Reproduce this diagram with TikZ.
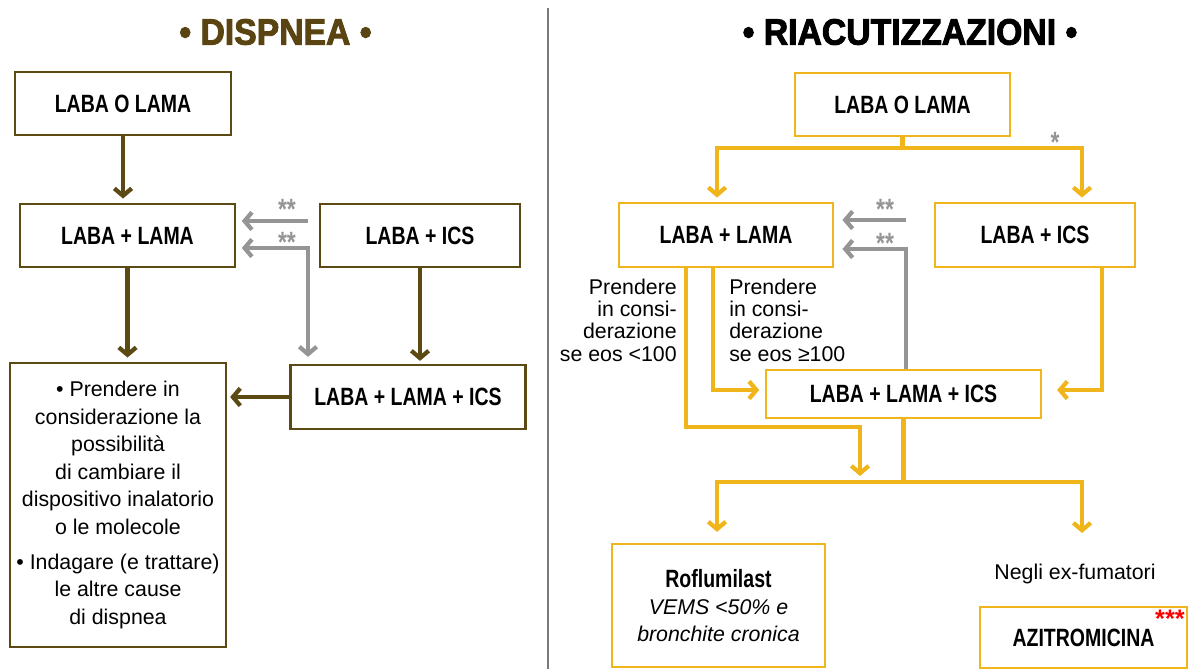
\documentclass[tikz,border=0pt]{standalone}
\usepackage{fontspec}
\setmainfont{Liberation Sans}
\newfontfamily\condfont{Liberation Sans}[FakeStretch=0.78]
\newfontfamily\titlefont{Liberation Sans}[FakeStretch=0.92,FakeBold=2.5]
\usetikzlibrary{arrows.meta,calc}
\definecolor{brownc}{HTML}{5C4A14}
\definecolor{goldc}{HTML}{F1B51C}
\definecolor{grayc}{HTML}{959595}
\definecolor{divc}{HTML}{7A7A7A}
\definecolor{titlebrown}{HTML}{5A4512}
\begin{document}
\begin{tikzpicture}[x=0.75pt,y=-0.75pt,
  sz/.style 2 args={minimum width=#1*0.75pt, minimum height=#2*0.75pt},
  bx/.style={draw, line width=2.2pt, inner sep=0pt, font=\condfont\bfseries\fontsize{18.75}{22}\selectfont, text=black},
  lbox/.style={bx, draw=brownc},
  rbox/.style={bx, draw=goldc},
  tipend/.style={-{Straight Barb[length=5.5pt,width=13pt]}},
  tipboth/.style={{Straight Barb[length=5.5pt,width=13pt]}-{Straight Barb[length=5.5pt,width=13pt]}},
  larr/.style={tipend, draw=brownc, line width=3.2pt},
  rarr/.style={tipend, draw=goldc, line width=3.2pt},
  rline/.style={draw=goldc, line width=3.2pt},
  garr/.style={tipend, draw=grayc, line width=3.2pt},
  ast/.style={text=grayc, inner sep=0pt, font=\condfont\bfseries\fontsize{22}{22}\selectfont},
  lbl/.style={inner sep=0pt, font=\fontsize{16}{16.7}\selectfont},
  ttl/.style={inner sep=0pt, font=\titlefont\bfseries\fontsize{27.5}{30}\selectfont}
]
\useasboundingbox (0,0) rectangle (1189,669);

% titles and divider
\node[ttl, text=titlebrown] (t1) at (275.5,32) {• DISPNEA •};
\node[ttl, text=black] (t2) at (910,32) {• RIACUTIZZAZIONI •};
\coordinate (d1) at (548,8);
\coordinate (d2) at (548,669);
\draw[divc, line width=1.5pt] (d1) -- (d2);

% ---------------- left panel
\node[lbox, sz={216}{63}] (L1) at (123,103.5) {LABA O LAMA};
\node[lbox, sz={215}{63}] (L2) at (127.5,235.5) {LABA + LAMA};
\node[lbox, sz={200}{63}] (L3) at (420,235.5) {LABA + ICS};
\node[lbox, sz={235}{64}] (L4) at (408,397) {LABA + LAMA + ICS};
\node[draw=brownc, line width=2.2pt, sz={216}{284}, inner sep=0pt, align=center,
      font=\fontsize{16}{20.7}\selectfont] (L5) at (118,505)
  {• Prendere in\\ considerazione la\\ possibilità\\ di cambiare il\\ dispositivo inalatorio\\ o le molecole\\[5.5pt]
   • Indagare (e trattare)\\ le altre cause\\ di dispnea};

\draw[larr, shorten >=3pt] (L1.south) -- (L1.south |- L2.north);
\draw[larr, shorten >=3pt] (L2.south) -- (L2.south |- L5.north);
\draw[larr, shorten >=2pt] (L3.south) -- (L3.south |- L4.north);
\draw[larr, shorten >=2pt] (L4.west) -- (L4.west -| L5.east);

\coordinate (g1) at (308,221);
\coordinate (g2) at (308,248);
\draw[garr, shorten >=4pt] (g1) -- (g1 -| L2.east);
\draw[garr, tipboth, shorten <=4pt, shorten >=5pt] (g2 -| L2.east) -- (g2) -- (g2 |- L4.north);
\node[ast] (a1) at (287,209) {**};
\node[ast] (a2) at (287,242) {**};

% ---------------- right panel
\node[rbox, sz={215}{63}] (R1) at (902.5,104.5) {LABA O LAMA};
\node[rbox, sz={214}{64}] (R2) at (726,235) {LABA + LAMA};
\node[rbox, sz={200}{64}] (R3) at (1035,235) {LABA + ICS};
\node[rbox, sz={275}{48}] (R4) at (903.5,394) {LABA + LAMA + ICS};
\node[rbox, sz={213}{123}, align=center, font=\condfont\bfseries\fontsize{18.75}{20.6}\selectfont] (R5) at (718.5,605.5)
  {Roflumilast\\ {\normalfont\itshape\fontsize{16}{20.6}\selectfont VEMS <50\% e}\\
   {\normalfont\itshape\fontsize{16}{20.6}\selectfont bronchite cronica}};
\node[rbox, sz={207}{61}] (R6) at (1083.5,637.5) {AZITROMICINA};
\node[lbl] (neg) at (1075,574) {Negli ex-fumatori};
\node[inner sep=0pt, text=red, font=\bfseries\fontsize{19}{19}\selectfont] (ast3) at (1170,619) {***};

\node[lbl, align=right, anchor=east] (p1) at (677,320) {Prendere\\in consi-\\derazione\\se eos <100};
\node[lbl, align=left, anchor=west] (p2) at (729,320) {Prendere\\in consi-\\derazione\\se eos ≥100};

% branch from top box
\coordinate (b1) at (902.5,148);
\coordinate (bl) at (717,148);
\coordinate (br) at (1082,148);
\draw[rline] (R1.south) -- (b1);
\draw[rarr, shorten >=3pt] (b1) -- (bl) -- (bl |- R2.north);
\draw[rarr, shorten >=3pt] (b1) -- (br) -- (br |- R3.north);
\node[ast] (a0) at (1055,142) {*};

% gray arrows
\coordinate (h1) at (906,220);
\coordinate (h2) at (906,249);
\draw[garr, shorten >=6pt] (h1) -- (h1 -| R2.east);
\draw[garr, shorten >=6pt] (h2 |- R4.north) -- (h2) -- (h2 -| R2.east);
\node[ast] (a3) at (885,209) {**};
\node[ast] (a4) at (885,243) {**};

% from LABA + LAMA
\coordinate (c1) at (686,427);
\coordinate (c2) at (860,427);
\coordinate (c3) at (860,476);
\draw[rarr] (c1 |- R2.south) -- (c1) -- (c2) -- (c3);
\coordinate (e1) at (713,390);
\draw[rarr, shorten >=4pt] (e1 |- R2.south) -- (e1) -- (e1 -| R4.west);
% from LABA + ICS
\coordinate (f1) at (1102,390);
\draw[rarr, shorten >=11pt] (f1 |- R3.south) -- (f1) -- (f1 -| R4.east);

% lower branch
\coordinate (m) at (903.5,482);
\coordinate (ml) at (717,482);
\coordinate (mr) at (1082,482);
\coordinate (mrt) at (1082,533);
\draw[rline] (R4.south) -- (m);
\draw[rarr, shorten >=8pt] (m) -- (ml) -- (ml |- R5.north);
\draw[rarr] (m) -- (mr) -- (mrt);
\end{tikzpicture}
\end{document}
